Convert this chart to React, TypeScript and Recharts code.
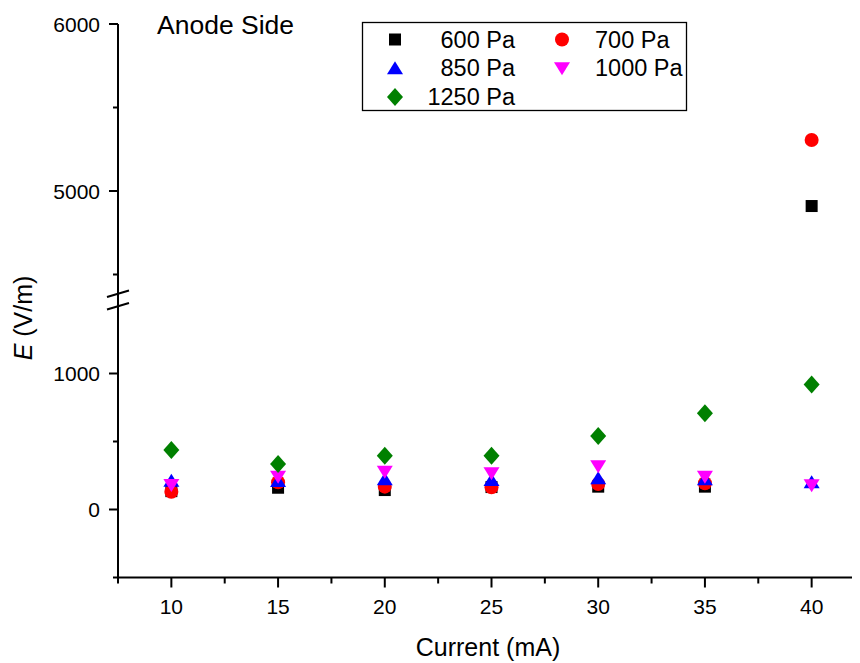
import React from 'react';
import { ScatterChart, Scatter, XAxis, YAxis } from 'recharts';

// measured values (E in V/m) at each discharge current
const currents = [10, 15, 20, 25, 30, 35, 40];
const e600 = [135, 160, 143, 165, 168, 168, 4910];
const e700 = [131, 200, 168, 163, 188, 193, 5305];
const e850 = [212, 210, 222, 217, 229, 222, 200];
const e1000 = [180, 240, 278, 266, 318, 241, 178];
const e1250 = [437, 335, 396, 396, 540, 707, 920];

const seriesNames = ['600 Pa', '700 Pa', '850 Pa', '1000 Pa', '1250 Pa'];
const seriesColors = ['#000000', '#ff0000', '#0000ff', '#ff00ff', '#008000'];
const seriesShapes = ['square', 'circle', 'up', 'down', 'diamond'];
const seriesValues = [e600, e700, e850, e1000, e1250];

const xTicks = [7.5, 10, 12.5, 15, 17.5, 20, 22.5, 25, 27.5, 30, 32.5, 35, 37.5, 40, 42.5];
const xLabels = [10, 15, 20, 25, 30, 35, 40];
const upperTicks = [4500, 5000, 5500, 6000];
const lowerTicks = [-500, 0, 500, 1000];
const yLabels = [0, 1000, 5000, 6000];

const upperDomain = [4400, 6000];
const lowerDomain = [-500, 1500];

const FONT = '"Liberation Sans", Arial, sans-serif';

const Marker = ({ cx, cy, kind, color }: any) => {
  if (cx == null || cy == null) return null;
  if (kind === 'square') return <rect x={cx - 6} y={cy - 6} width={12} height={12} fill={color} />;
  if (kind === 'circle') return <circle cx={cx} cy={cy} r={7} fill={color} />;
  if (kind === 'up')
    return <polygon points={`${cx},${cy - 7} ${cx + 8},${cy + 6} ${cx - 8},${cy + 6}`} fill={color} />;
  if (kind === 'down')
    return <polygon points={`${cx - 8},${cy - 6} ${cx + 8},${cy - 6} ${cx},${cy + 7}`} fill={color} />;
  return <polygon points={`${cx},${cy - 9} ${cx + 8},${cy} ${cx},${cy + 9} ${cx - 8},${cy}`} fill={color} />;
};

const YTick = (props: any) => {
  const { x, y, payload } = props;
  const major = yLabels.includes(payload.value);
  return (
    <g>
      <line x1={x - (major ? 9 : 5)} x2={x} y1={y} y2={y} stroke='#000' strokeWidth={2} />
      {major && (
        <text x={x - 18} y={y + 7.5} textAnchor='end' fontSize={21} fontFamily={FONT} fill='#000'>
          {payload.value}
        </text>
      )}
    </g>
  );
};

const XTick = (props: any) => {
  const { x, y, payload } = props;
  const major = xLabels.includes(payload.value);
  return (
    <g>
      <line x1={x} x2={x} y1={y} y2={y + (major ? 10 : 6)} stroke='#000' strokeWidth={2} />
      {major && (
        <text x={x} y={y + 36.5} textAnchor='middle' fontSize={21} fontFamily={FONT} fill='#000'>
          {payload.value}
        </text>
      )}
    </g>
  );
};

const pointsFor = (values: number[], domain: number[]) =>
  currents
    .map((c, i) => ({ x: c, y: values[i] }))
    .filter((p) => p.y >= domain[0] && p.y <= domain[1]);

const renderSeries = (domain: number[]) =>
  seriesNames.map((name, i) => (
    <Scatter
      key={name}
      name={name}
      data={pointsFor(seriesValues[i], domain)}
      isAnimationActive={false}
      shape={(p: any) => <Marker cx={p.cx} cy={p.cy} kind={seriesShapes[i]} color={seriesColors[i]} />}
    />
  ));

const App = () => {
  return (
    <div
      style={{
        position: 'relative',
        width: 860,
        height: 663,
        marginLeft: -8,
        marginTop: -8,
        overflow: 'hidden',
        background: '#fff',
      }}
    >
      <div style={{ position: 'absolute', left: 0, top: 0 }}>
        <ScatterChart width={880} height={300} margin={{ top: 24, right: 15, bottom: 8.8, left: 0 }}>
          <XAxis type='number' dataKey='x' domain={[7.5, 42.5]} hide />
          <YAxis
            type='number'
            dataKey='y'
            domain={upperDomain}
            ticks={upperTicks}
            interval={0}
            width={118}
            allowDataOverflow
            tickSize={0}
            tickMargin={0}
            tickLine={false}
            axisLine={{ stroke: '#000', strokeWidth: 2 }}
            tick={<YTick />}
          />
          {renderSeries(upperDomain)}
        </ScatterChart>
      </div>
      <div style={{ position: 'absolute', left: 0, top: 0 }}>
        <ScatterChart width={880} height={663} margin={{ top: 305.5, right: 15, bottom: 0, left: 0 }}>
          <XAxis
            type='number'
            dataKey='x'
            domain={[7.5, 42.5]}
            ticks={xTicks}
            interval={0}
            height={85.5}
            allowDataOverflow
            tickSize={0}
            tickMargin={0}
            tickLine={false}
            axisLine={{ stroke: '#000', strokeWidth: 2 }}
            tick={<XTick />}
          />
          <YAxis
            type='number'
            dataKey='y'
            domain={lowerDomain}
            ticks={lowerTicks}
            interval={0}
            width={118}
            allowDataOverflow
            tickSize={0}
            tickMargin={0}
            tickLine={false}
            axisLine={{ stroke: '#000', strokeWidth: 2 }}
            tick={<YTick />}
          />
          {renderSeries(lowerDomain)}
        </ScatterChart>
      </div>
      <svg width={860} height={663} style={{ position: 'absolute', left: 0, top: 0, pointerEvents: 'none' }}>
        {/* axis break */}
        <line x1={118} x2={118} y1={290} y2={307} stroke='#000' strokeWidth={2} />
        <line x1={107} y1={297} x2={129} y2={290.5} stroke='#000' strokeWidth={2} />
        <line x1={107} y1={309.5} x2={129} y2={303} stroke='#000' strokeWidth={2} />

        <text x={157} y={34} fontSize={26.5} fontFamily={FONT} fill='#000'>
          Anode Side
        </text>
        <text x={488} y={656} textAnchor='middle' fontSize={25} fontFamily={FONT} fill='#000'>
          Current (mA)
        </text>
        <text transform='translate(32,318) rotate(-90)' textAnchor='middle' fontSize={25} fontFamily={FONT} fill='#000'>
          <tspan fontStyle='italic'>E</tspan> (V/m)
        </text>

        {/* legend */}
        <rect x={362.5} y={22.5} width={324} height={88} fill='#fff' stroke='#000' strokeWidth={1.3} />
        {seriesNames.map((name, i) => {
          const col = i % 2;
          const rowY = 39.5 + Math.floor(i / 2) * 28.7;
          return (
            <g key={name}>
              <Marker cx={col === 0 ? 395 : 562} cy={rowY} kind={seriesShapes[i]} color={seriesColors[i]} />
              <text
                x={col === 0 ? 515 : 595}
                y={rowY + 8}
                textAnchor={col === 0 ? 'end' : 'start'}
                fontSize={23.5}
                fontFamily={FONT}
                fill='#000'
              >
                {name}
              </text>
            </g>
          );
        })}
      </svg>
    </div>
  );
};

export default App;
